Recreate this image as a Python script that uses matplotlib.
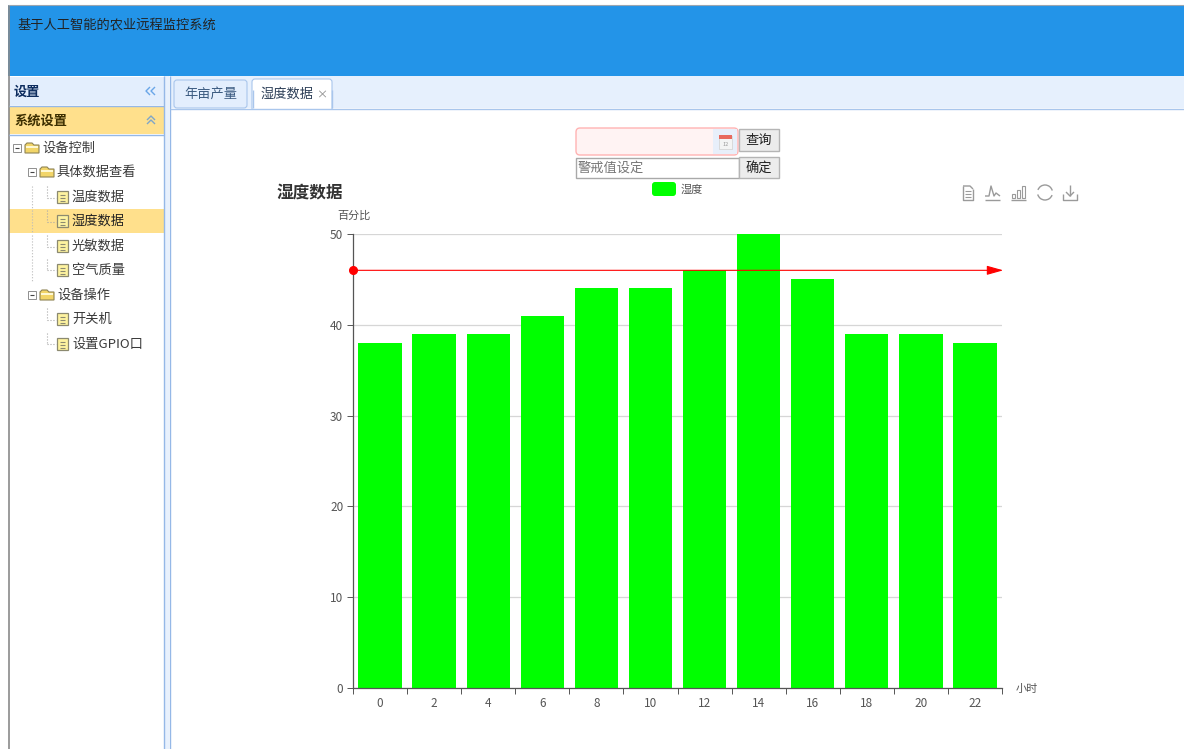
import matplotlib
matplotlib.use("Agg")
import matplotlib.pyplot as plt
from matplotlib.patches import Rectangle, FancyBboxPatch, Polygon, Arc

plt.rcParams['font.family'] = ['Noto Sans CJK SC', 'DejaVu Sans']

# chart data
hours = ['0', '2', '4', '6', '8', '10', '12', '14', '16', '18', '20', '22']
humidity = [38, 39, 39, 41, 44, 44, 46, 50, 45, 39, 39, 38]
y_ticks = [0, 10, 20, 30, 40, 50]
alarm_value = 46
chart_title = '湿度数据'
series_name = '湿度'

# side menu: text, text x, y, kind
tree_items = [
    ('设备控制', 42, 148, 'folder'),
    ('具体数据查看', 57, 172, 'folder'),
    ('温度数据', 72, 197, 'file'),
    ('湿度数据', 72, 221, 'file'),
    ('光敏数据', 72, 246, 'file'),
    ('空气质量', 72, 270, 'file'),
    ('设备操作', 57, 295, 'folder'),
    ('开关机', 72, 319, 'file'),
    ('设置GPIO口', 72, 344, 'file'),
]

W, H = 1184, 749
fig = plt.figure(figsize=(W / 100, H / 100), dpi=100, facecolor='white')

# page layer works in pixels, origin at the top left
page = fig.add_axes([0, 0, 1, 1], zorder=0)
page.set_xlim(0, W)
page.set_ylim(H, 0)
page.axis('off')


def box(x0, y0, x1, y1, fc, ec='none', lw=0.0):
    page.add_patch(Rectangle((x0, y0), x1 - x0, y1 - y0, fc=fc, ec=ec, lw=lw))


def rounded(x0, y0, x1, y1, fc, ec, r=3, lw=0.8):
    page.add_patch(FancyBboxPatch((x0 + r, y0 + r), x1 - x0 - 2 * r, y1 - y0 - 2 * r,
                                  boxstyle='round,pad=%d,rounding_size=%d' % (r, r),
                                  fc=fc, ec=ec, lw=lw))


def label(x, y, s, size=9.5, color='#404040', ha='left', weight='normal'):
    page.text(x, y + 0.5, s, fontsize=size, color=color, ha=ha, va='center', weight=weight)


def stroke(xs, ys, color='#888888', lw=1.0, ls='-'):
    page.plot(xs, ys, color=color, lw=lw, ls=ls, solid_capstyle='butt')


def folder_icon(x, y):
    page.add_patch(Polygon([(x - 1, y + 5), (x - 1, y - 3), (x + 1, y - 5), (x + 6, y - 5), (x + 8, y - 3),
                            (x + 13, y - 3), (x + 13, y + 5)],
                           closed=True, fc='#f2d568', ec='#8f8455', lw=0.8))
    stroke([x, x + 12], [y - 1.5, y - 1.5], '#fff9d6', 1.4)


def file_icon(x, y):
    box(x, y - 6, x + 10.5, y + 6, '#fef3a0', '#8c8a70', 0.9)
    for dy in (-2, 1, 3.5):
        stroke([x + 2.5, x + 8], [y + dy, y + dy], '#8c8a70', 0.8)


def expander(x, y):
    box(x - 4, y - 4, x + 4, y + 4, 'white', '#8f8f8f', 0.7)
    stroke([x - 2, x + 2], [y, y], '#444444', 0.8)


def chevrons(x, y, color, up=False):
    for dx in (0, 5):
        if up:
            stroke([x, x + 4, x + 8], [y + 2 + dx * 0.8, y - 2 + dx * 0.8, y + 2 + dx * 0.8], color, 1.0)
        else:
            stroke([x + 4 + dx, x + dx, x + 4 + dx], [y - 4, y, y + 4], color, 1.0)


# outer frame and blue banner
box(8, 5, 1184, 76, '#2394e8')
stroke([8.5, 8.5], [5, H], '#8a8a8a', 1.2)
stroke([8, W], [5, 5], '#9aa5b0', 0.8)
label(18, 25, '基于人工智能的农业远程监控系统', color='#222222')

# left panel
box(9, 77, 164, 105, '#e3eefd')
box(9, 106, 164, 134, '#ffe08c')
stroke([9, 164], [105.5, 105.5], '#95b8e7')
stroke([9, 164], [134.5, 134.5], '#95b8e7')
box(164, 76, 169, H, '#e8f1fd')
stroke([163.5, 163.5], [76, H], '#95b8e7')
stroke([169.5, 169.5], [76, H], '#95b8e7')
label(14, 91, '设置', color='#0e2d5f', weight='bold')
label(14, 120, '系统设置', color='#3c2f00', weight='bold')
chevrons(146, 91, '#6aa6e8')
chevrons(147, 118, '#7fa6c8', up=True)

box(9, 209, 164, 233, '#ffe08c')

# tree guide lines
for yy in (197, 221, 246, 270):
    stroke([32, 32], [yy - 11, yy + 11], '#bbbbbb', 0.8, ':')
for yy in (197, 221, 246, 319):
    stroke([47, 47], [yy - 11, yy + 1], '#aaaaaa', 0.8, ':')
    stroke([47, 56], [yy + 1, yy + 1], '#aaaaaa', 0.8, ':')
for yy in (270, 344):
    stroke([47, 47], [yy - 11, yy], '#aaaaaa', 0.8, ':')
    stroke([47, 56], [yy, yy], '#aaaaaa', 0.8, ':')

for text, tx, ty, kind in tree_items:
    if kind == 'folder':
        folder_icon(tx - 16, ty)
        expander(tx - 25, ty)
    else:
        file_icon(tx - 15, ty)
    label(tx, ty, text, color='#222222' if text == '湿度数据' else '#3a3a3a')

# tab strip
box(170, 76, W, 108, '#e6f0fd')
stroke([170, W], [108.5, 108.5], '#a9c6ec')
rounded(174, 80, 247, 108, '#e3eefd', '#a9c6ec')
rounded(252, 79, 332, 112, 'white', '#a9c6ec')
box(170, 109, W, H, 'white')
stroke([252.5, 252.5], [90, 108], '#a9c6ec')
stroke([331.5, 331.5], [90, 108], '#a9c6ec')
box(253, 100, 331, 110, 'white')
label(184, 94, '年亩产量', color='#3a5a80')
label(261, 94, '湿度数据', color='#2c3e57')
label(322, 94, '×', size=8, color='#888888', ha='center')

# date input and alarm input above the chart
rounded(576, 128, 738, 155, '#fff3f3', '#ffb3b3', r=4, lw=1.0)
box(713, 129, 737, 154, '#e8effa')
box(719, 136, 732, 149, '#f4f4f4', '#d0d0d0', 0.5)
box(719, 135, 732, 139, '#e86a5e')
label(725.5, 144, '12', size=4, color='#999999', ha='center')
box(739, 129, 779, 151, '#ececec', '#b5b5b5', 1.0)
label(759, 140, '查询', color='#222222', ha='center')
box(576, 158, 739, 178, 'white', '#a9a9a9', 1.0)
label(578, 168, '警戒值设定', color='#777777')
box(739, 157, 779, 178, '#ececec', '#b5b5b5', 1.0)
label(759, 168, '确定', color='#222222', ha='center')

# chart title, legend, toolbox
label(277, 193, chart_title, size=12, color='#333333', weight='bold')
rounded(652, 182, 676, 196, '#00ff00', 'none', r=3, lw=0)
label(681, 189.5, series_name, size=8, color='#555555')
label(337, 215.5, '百分比', size=8, color='#555555')
label(1016, 688.5, '小时', size=8, color='#555555')

icon_c = '#9a9a9a'
# data view
stroke([963, 963, 973, 973], [186, 200, 200, 189], icon_c)
stroke([963, 970, 973], [186, 186, 189], icon_c)
for yy in (191, 194, 197):
    stroke([965, 971], [yy, yy], icon_c, 0.8)
# line switch
stroke([985, 989, 991, 994, 996, 1000], [196, 196, 186, 196, 193, 196], icon_c)
stroke([985, 1000], [200, 200], icon_c)
# bar switch
for xx, top in ((1012, 194), (1017, 190), (1022, 186)):
    box(xx, top, xx + 3, 198, 'white', icon_c, 0.8)
stroke([1011, 1026], [200, 200], icon_c)
# restore
page.add_patch(Arc((1045, 192.5), 15, 15, angle=0, theta1=20, theta2=165, ec=icon_c, lw=1.0))
page.add_patch(Arc((1045, 192.5), 15, 15, angle=0, theta1=200, theta2=345, ec=icon_c, lw=1.0))
# save image
stroke([1070, 1070], [185, 196], icon_c)
stroke([1066, 1070, 1074], [192, 196, 192], icon_c)
stroke([1063, 1063, 1077, 1077], [194, 200, 200, 194], icon_c)

# bar chart on real axes
ax = fig.add_axes([353 / W, 1 - 688 / H, (1002 - 353) / W, (688 - 234) / H], zorder=1)
ax.patch.set_alpha(0)
ax.bar(range(len(hours)), humidity, width=0.8, color='#00ff00', zorder=2)
ax.set_xlim(-0.5, len(hours) - 0.5)
ax.set_ylim(0, 50)
ax.set_yticks(y_ticks)
ax.set_xticks([i - 0.5 for i in range(len(hours) + 1)])
ax.set_xticklabels([])
ax.set_xticks(range(len(hours)), labels=hours, minor=True)
ax.tick_params(axis='x', which='major', length=4, width=0.7, color='#555555')
ax.tick_params(axis='x', which='minor', length=0, pad=6.5, labelsize=8.5, labelcolor='#555555')
ax.tick_params(axis='y', length=4, width=0.7, color='#555555', pad=3, labelsize=8.5, labelcolor='#555555')
ax.grid(axis='y', color='#d6d6d6', lw=0.9, zorder=1)
ax.set_axisbelow(True)
for side in ('top', 'right'):
    ax.spines[side].set_visible(False)
for side in ('left', 'bottom'):
    ax.spines[side].set_color('#555555')
    ax.spines[side].set_linewidth(0.9)

# alarm line with a dot at the start and an arrow at the end
ax.annotate('', xy=(1.002, alarm_value), xytext=(0, alarm_value),
            xycoords=('axes fraction', 'data'), textcoords=('axes fraction', 'data'),
            arrowprops=dict(arrowstyle='-|>,head_length=1.0,head_width=0.28', color='#ff0000',
                            lw=0.8, shrinkA=0, shrinkB=0), zorder=5, annotation_clip=False)
ax.plot([0], [alarm_value], 'o', color='#ff0000', ms=5.5, transform=ax.get_yaxis_transform(),
        clip_on=False, zorder=6)

fig.savefig('out.png', dpi=100)
